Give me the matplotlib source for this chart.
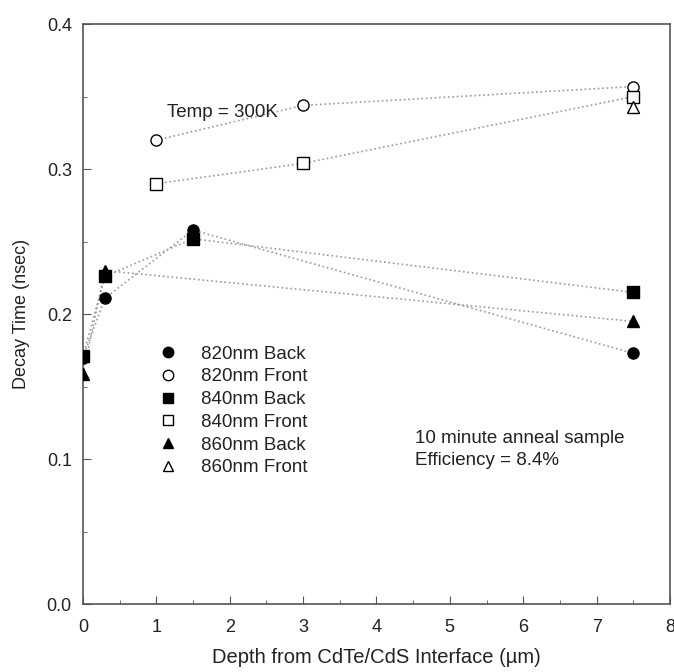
import matplotlib
matplotlib.use('Agg')
import matplotlib.pyplot as plt
from matplotlib.lines import Line2D
from matplotlib.ticker import MultipleLocator, FormatStrFormatter

plt.rcParams['font.family'] = ['Liberation Sans', 'DejaVu Sans']

# данные
x_820_back = [0, 0.3, 1.5, 7.5]
y_820_back = [0.170, 0.211, 0.258, 0.173]
x_840_back = [0, 0.3, 1.5, 7.5]
y_840_back = [0.171, 0.226, 0.252, 0.215]
x_860_back = [0, 0.3, 7.5]
y_860_back = [0.159, 0.230, 0.195]
x_820_front = [1, 3, 7.5]
y_820_front = [0.320, 0.344, 0.357]
x_840_front = [1, 3, 7.5]
y_840_front = [0.290, 0.304, 0.350]
x_860_front = [7.5]
y_860_front = [0.343]

series = [
    (x_820_back, y_820_back, 'o', 'black', '820nm Back'),
    (x_820_front, y_820_front, 'o', 'white', '820nm Front'),
    (x_840_back, y_840_back, 's', 'black', '840nm Back'),
    (x_840_front, y_840_front, 's', 'white', '840nm Front'),
    (x_860_back, y_860_back, '^', 'black', '860nm Back'),
    (x_860_front, y_860_front, '^', 'white', '860nm Front'),
]

fig = plt.figure(figsize=(6.74, 6.72), dpi=100)
ax = fig.add_axes([0.123, 0.101, 0.871, 0.863])

handles = []
for xs, ys, m, fc, lab in series:
    ax.plot(xs, ys, ls=':', color='#9a9a9a', lw=1.2, zorder=1)
    ax.plot(xs, ys, ls='none', marker=m, ms=8, mfc=fc, mec='black', mew=1.0, zorder=3)
    handles.append(Line2D([], [], ls='none', marker=m, ms=7.5, mfc=fc, mec='black', mew=1.0, label=lab))

ax.set_xlim(0, 8)
ax.set_ylim(0, 0.4)
ax.xaxis.set_major_locator(MultipleLocator(1))
ax.xaxis.set_minor_locator(MultipleLocator(0.5))
ax.yaxis.set_major_locator(MultipleLocator(0.1))
ax.yaxis.set_minor_locator(MultipleLocator(0.05))
ax.yaxis.set_major_formatter(FormatStrFormatter('%.1f'))
ax.tick_params(which='both', direction='in', colors='#555555', labelcolor='#222222', labelsize=13)
ax.tick_params(which='major', length=6)
ax.tick_params(which='minor', length=3)
ax.tick_params(axis='x', which='major', pad=11)
ax.tick_params(axis='y', which='major', pad=8)
for sp in ax.spines.values():
    sp.set_color('#555555')
    sp.set_linewidth(1.2)

ax.set_xlabel('Depth from CdTe/CdS Interface (\u00b5m)', fontsize=14.5, color='#222222', labelpad=8)
ax.set_ylabel('Decay Time (nsec)', fontsize=13, color='#222222', labelpad=12)

ax.text(1.14, 0.339, 'Temp = 300K', fontsize=13.5, color='#222222', va='center')
ax.text(4.52, 0.1145, '10 minute anneal sample', fontsize=13.5, color='#222222', va='center')
ax.text(4.52, 0.099, 'Efficiency = 8.4%', fontsize=13.5, color='#222222', va='center')

ax.legend(handles=handles, loc='upper left', bbox_to_anchor=(0.115, 0.462), frameon=False,
          fontsize=13.5, labelspacing=0.3, handlelength=0.9, handletextpad=1.3, borderpad=0,
          labelcolor='#222222')

fig.savefig('out.png', dpi=100, facecolor='white')
